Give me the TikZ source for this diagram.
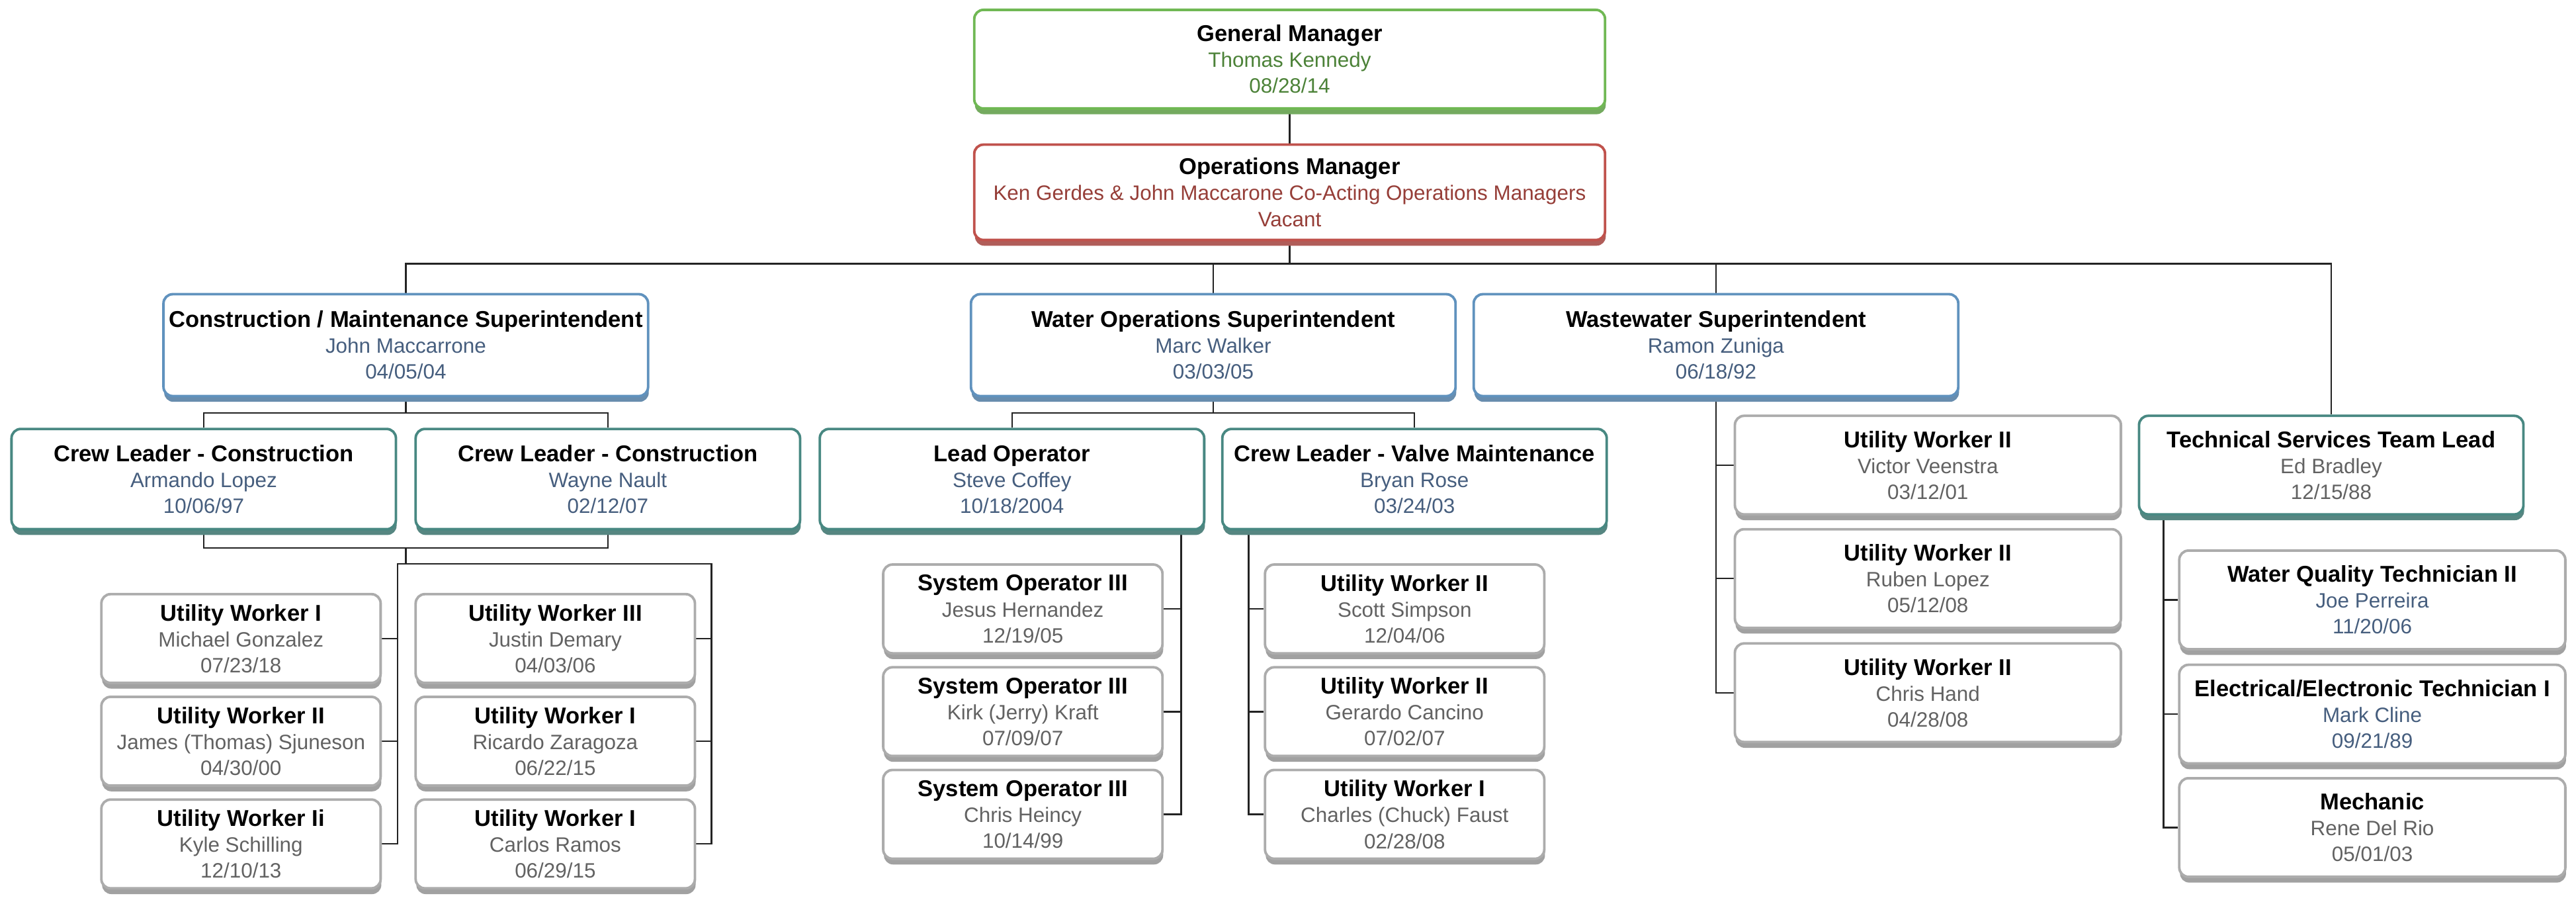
\documentclass[tikz,border=0pt]{standalone}
\usepackage{fontspec}
\setmainfont{Liberation Sans}
\usetikzlibrary{shadows,backgrounds}
\definecolor{gmLine}{RGB}{112,184,84}
\definecolor{gmText}{RGB}{76,130,56}
\definecolor{omLine}{RGB}{192,82,76}
\definecolor{omText}{RGB}{150,62,56}
\definecolor{supLine}{RGB}{96,146,190}
\definecolor{leadLine}{RGB}{72,136,130}
\definecolor{staffLine}{RGB}{172,172,172}
\definecolor{nameBlue}{RGB}{70,94,126}
\definecolor{nameGrey}{RGB}{98,98,98}
\definecolor{linkGrey}{RGB}{35,35,35}

\newcommand{\orgentry}[3]{{\color{black}\fontsize{19.8}{22.4}\selectfont\bfseries #1}\\#2\\#3}

\tikzset{
  orgbox/.style={draw=#1, line width=2.2pt, rounded corners=8pt, fill=white,
    align=center, inner sep=2pt, font=\fontsize{18}{22.4}\selectfont,
    drop shadow={shadow xshift=0.6pt, shadow yshift=-5pt, fill=#1!75!gray, opacity=1}},
  gmbox/.style={orgbox=gmLine, text=gmText, minimum width=19.2cm, minimum height=3cm},
  ombox/.style={orgbox=omLine, text=omText, minimum width=19.2cm, minimum height=2.9cm},
  supbox/.style={orgbox=supLine, text=nameBlue, minimum width=14.75cm, minimum height=3.1cm},
  leadbox/.style={orgbox=leadLine, text=nameBlue, minimum width=11.7cm, minimum height=3.05cm},
  crewbox/.style={orgbox=staffLine, text=nameGrey, minimum width=8.5cm, minimum height=2.7cm},
  techbox/.style={orgbox=staffLine, text=nameGrey, minimum width=11.75cm, minimum height=3cm},
  link/.style={draw=linkGrey, line width=1.4pt}
}

\begin{document}
\begin{tikzpicture}[x=0.05cm, y=-0.05cm]
        \useasboundingbox (0,0) rectangle (1568,550);

        % Management
        \node[gmbox] (gm) at (785,36) {\orgentry{General Manager}{Thomas Kennedy}{08/28/14}};
        \node[ombox] (om) at (785,117) {\orgentry{Operations Manager}{Ken Gerdes \& John Maccarone Co-Acting Operations Managers}{Vacant}};

        % Superintendents
        \node[supbox] (cms) at (247,210) {\orgentry{Construction / Maintenance Superintendent}{John Maccarrone}{04/05/04}};
        \node[supbox] (wo) at (738.5,210) {\orgentry{Water Operations Superintendent}{Marc Walker}{03/03/05}};
        \node[supbox] (ww) at (1044.5,210) {\orgentry{Wastewater Superintendent}{Ramon Zuniga}{06/18/92}};

        % Crew leaders and team leads
        \node[leadbox] (cl1) at (124,291.5) {\orgentry{Crew Leader - Construction}{Armando Lopez}{10/06/97}};
        \node[leadbox] (cl2) at (370,291.5) {\orgentry{Crew Leader - Construction}{Wayne Nault}{02/12/07}};
        \node[leadbox] (lo) at (616,291.5) {\orgentry{Lead Operator}{Steve Coffey}{10/18/2004}};
        \node[leadbox] (clv) at (861,291.5) {\orgentry{Crew Leader - Valve Maintenance}{Bryan Rose}{03/24/03}};
        \node[leadbox, text=nameGrey, minimum height=3cm] (ts) at (1419,283) {\orgentry{Technical Services Team Lead}{Ed Bradley}{12/15/88}};

        % Construction crews
        \node[crewbox] (uwa1) at (146.7,388.5) {\orgentry{Utility Worker I}{Michael Gonzalez}{07/23/18}};
        \node[crewbox] (uwa2) at (146.7,451) {\orgentry{Utility Worker II}{James (Thomas) Sjuneson}{04/30/00}};
        \node[crewbox] (uwa3) at (146.7,513.5) {\orgentry{Utility Worker Ii}{Kyle Schilling}{12/10/13}};
        \node[crewbox] (uwb1) at (338,388.5) {\orgentry{Utility Worker III}{Justin Demary}{04/03/06}};
        \node[crewbox] (uwb2) at (338,451) {\orgentry{Utility Worker I}{Ricardo Zaragoza}{06/22/15}};
        \node[crewbox] (uwb3) at (338,513.5) {\orgentry{Utility Worker I}{Carlos Ramos}{06/29/15}};

        % Water operations crews
        \node[crewbox] (so1) at (622.6,370.5) {\orgentry{System Operator III}{Jesus Hernandez}{12/19/05}};
        \node[crewbox] (so2) at (622.6,433) {\orgentry{System Operator III}{Kirk (Jerry) Kraft}{07/09/07}};
        \node[crewbox] (so3) at (622.6,495.5) {\orgentry{System Operator III}{Chris Heincy}{10/14/99}};
        \node[crewbox] (va1) at (855,370.5) {\orgentry{Utility Worker II}{Scott Simpson}{12/04/06}};
        \node[crewbox] (va2) at (855,433) {\orgentry{Utility Worker II}{Gerardo Cancino}{07/02/07}};
        \node[crewbox] (va3) at (855,495.5) {\orgentry{Utility Worker I}{Charles (Chuck) Faust}{02/28/08}};

        % Wastewater and technical services
        \node[techbox] (wu1) at (1173.5,283) {\orgentry{Utility Worker II}{Victor Veenstra}{03/12/01}};
        \node[techbox] (wu2) at (1173.5,352) {\orgentry{Utility Worker II}{Ruben Lopez}{05/12/08}};
        \node[techbox] (wu3) at (1173.5,421.5) {\orgentry{Utility Worker II}{Chris Hand}{04/28/08}};
        \node[techbox, text=nameBlue] (tq1) at (1444,365) {\orgentry{Water Quality Technician II}{Joe Perreira}{11/20/06}};
        \node[techbox, text=nameBlue] (tq2) at (1444,434.5) {\orgentry{Electrical/Electronic Technician I}{Mark Cline}{09/21/89}};
        \node[techbox] (tq3) at (1444,503.5) {\orgentry{Mechanic}{Rene Del Rio}{05/01/03}};

        \begin{scope}[on background layer]
          % main bus
          \coordinate (busL) at (247,160.5);
          \coordinate (busR) at (1419,160.5);
          \draw[link] (gm.south) -- (om.north);
          \draw[link] (om.south) -- (om.south |- busL);
          \draw[link] (cms.north) |- (busR) -- (ts.north);
          \draw[link] (wo.north) -- (wo.north |- busL);
          \draw[link] (ww.north) -- (ww.north |- busL);

          % construction
          \coordinate (cbus) at (247,251.3);
          \coordinate (cbus2) at (247,333.5);
          \coordinate (ugL) at (242,343);
          \coordinate (ugR) at (433,343);
          \draw[link] (cms.south) -- (cbus);
          \draw[link] (cl1.north) |- (cbus) -| (cl2.north);
          \draw[link] (cl1.south) |- (cbus2) -| (cl2.south);
          \draw[link] (cbus2) -- (cbus2 |- ugL);
          \draw[link] (uwa3.east) -| (ugL) -- (ugR) |- (uwb3.east);
          \foreach \n in {uwa1,uwa2}
            \draw[link] (\n.east) -- (\n.east -| ugL);
          \foreach \n in {uwb1,uwb2}
            \draw[link] (\n.east) -- (\n.east -| ugR);

          % water operations
          \coordinate (wbus) at (738.5,251.3);
          \coordinate (loDrop) at (719,322);
          \coordinate (clvDrop) at (760,322);
          \draw[link] (wo.south) -- (wbus);
          \draw[link] (lo.north) |- (wbus) -| (clv.north);
          \draw[link] (loDrop) |- (so3.east);
          \draw[link] (clvDrop) |- (va3.west);
          \foreach \n in {so1,so2}
            \draw[link] (\n.east) -- (\n.east -| loDrop);
          \foreach \n in {va1,va2}
            \draw[link] (\n.west) -- (\n.west -| clvDrop);

          % wastewater
          \draw[link] (ww.south) |- (wu3.west);
          \foreach \n in {wu1,wu2}
            \draw[link] (\n.west) -- (\n.west -| ww.south);

          % technical services
          \coordinate (tsDrop) at (1317,313);
          \draw[link] (tsDrop) |- (tq3.west);
          \foreach \n in {tq1,tq2}
            \draw[link] (\n.west) -- (\n.west -| tsDrop);
        \end{scope}
      \end{tikzpicture}
\end{document}
